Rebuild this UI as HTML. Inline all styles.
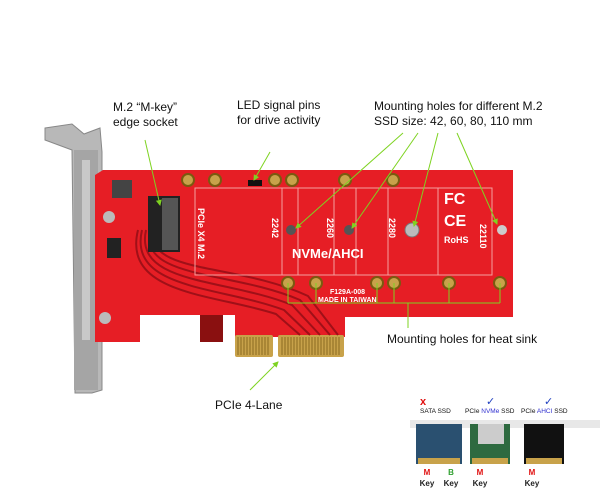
<!DOCTYPE html>
<html><head><meta charset="utf-8"><style>
body{margin:0;background:#fff;}
svg{display:block;font-family:"Liberation Sans",sans-serif;}
</style></head><body>
<svg width="600" height="496" viewBox="0 0 600 496">
<defs><marker id="a" markerWidth="6" markerHeight="6" refX="5" refY="3" orient="auto"><path d="M0,0L6,3L0,6z" fill="#7ed321"/></marker></defs>
<rect width="600" height="496" fill="#fff"/>
<polygon points="45,128 72,124 84,134 100,128 102,152 102,390 92,393 75,393 72,150 45,140" fill="#b8b8b8" stroke="#888" stroke-width="1"/>
<rect x="74" y="150" width="24" height="240" fill="#a5a5a5"/>
<rect x="82" y="160" width="8" height="180" fill="#c8c8c8"/>
<path d="M103,170 L513,170 L513,317 L345,317 L345,337 L235,337 L235,315 L140,315 L140,342 L95,342 L95,175 Z" fill="#e61e25"/>
<rect x="200" y="315" width="23" height="27" fill="#8a1010"/>
<rect x="235" y="335" width="38" height="22" rx="2" fill="#c8a24a"/>
<rect x="278" y="335" width="66" height="22" rx="2" fill="#c8a24a"/>
<g stroke="#8a6a20" stroke-width="1">
<path d="M238,337v18M241,337v18M244,337v18M247,337v18M250,337v18M253,337v18M256,337v18M259,337v18M262,337v18M265,337v18M268,337v18M282,337v18M285,337v18M288,337v18M291,337v18M294,337v18M297,337v18M300,337v18M303,337v18M306,337v18M309,337v18M312,337v18M315,337v18M318,337v18M321,337v18M324,337v18M327,337v18M330,337v18M333,337v18M336,337v18M339,337v18"/>
</g>
<g fill="none" stroke="#a01018" stroke-width="2">
<path d="M150,230 C140,280 230,270 300,300 L330,335"/>
<path d="M146,230 C134,285 225,278 292,305 L320,335"/>
<path d="M142,230 C128,290 220,286 284,310 L310,335"/>
<path d="M138,230 C122,295 215,294 276,314 L300,335"/>
<path d="M154,230 C146,275 235,262 308,296 L338,335"/>
</g>
<g fill="none" stroke="#f4a0a0" stroke-width="1">
<rect x="195" y="188" width="297" height="87"/>
<path d="M282,188v87M298,188v87M334,188v87M356,188v87M388,188v87M438,188v87"/>
</g>
<rect x="148" y="196" width="32" height="56" fill="#222"/>
<rect x="162" y="198" width="16" height="52" fill="#555"/>
<rect x="112" y="180" width="20" height="18" fill="#444"/>
<rect x="107" y="238" width="14" height="20" fill="#222"/>
<rect x="248" y="180" width="14" height="6" fill="#111"/>
<g fill="#c8a24a" stroke="#7a5a10" stroke-width="2">
<circle cx="188" cy="180" r="6"/><circle cx="215" cy="180" r="6"/><circle cx="275" cy="180" r="6"/><circle cx="292" cy="180" r="6"/><circle cx="345" cy="180" r="6"/><circle cx="393" cy="180" r="6"/>
<circle cx="288" cy="283" r="6"/><circle cx="316" cy="283" r="6"/><circle cx="377" cy="283" r="6"/><circle cx="394" cy="283" r="6"/><circle cx="449" cy="283" r="6"/><circle cx="500" cy="283" r="6"/>
</g>
<circle cx="291" cy="230" r="5" fill="#555"/><circle cx="349" cy="230" r="5" fill="#555"/><circle cx="412" cy="230" r="7" fill="#bbb" stroke="#777"/><circle cx="502" cy="230" r="5" fill="#ccc"/>
<circle cx="109" cy="217" r="6" fill="#bbb"/><circle cx="105" cy="318" r="6" fill="#bbb"/>
<g fill="#fff" font-size="10" font-weight="bold">
<text x="292" y="258" font-size="13">NVMe/AHCI</text>
<text transform="translate(198,208) rotate(90)" font-size="9">PCIe X4 M.2</text>
<text transform="translate(272,218) rotate(90)" font-size="9">2242</text>
<text transform="translate(327,218) rotate(90)" font-size="9">2260</text>
<text transform="translate(389,218) rotate(90)" font-size="9">2280</text>
<text transform="translate(480,224) rotate(90)" font-size="9">22110</text>
<text x="444" y="204" font-size="16">FC</text>
<text x="444" y="226" font-size="16">CE</text>
<text x="444" y="243" font-size="9">RoHS</text>
<text x="330" y="294" font-size="7">F129A-008</text>
<text x="318" y="302" font-size="7">MADE IN TAIWAN</text>
</g>
<g stroke="#7ed321" stroke-width="1" fill="none">
<path d="M288,283v20M316,283v20M377,283v20M394,283v20M449,283v20M500,283v20M288,303h212M408,303v25"/>
<path d="M145,140 L160,205" marker-end="url(#a)"/><path d="M270,152 L254,180" marker-end="url(#a)"/>
<path d="M403,133 L296,228" marker-end="url(#a)"/><path d="M418,133 L352,228" marker-end="url(#a)"/><path d="M438,133 L414,226" marker-end="url(#a)"/><path d="M457,133 L497,224" marker-end="url(#a)"/>
<path d="M250,390 L278,362" marker-end="url(#a)"/>
</g>
<g font-size="12" fill="#111">
<text x="113" y="111">M.2 “M-key”</text><text x="113" y="126">edge socket</text>
<text x="237" y="109">LED signal pins</text><text x="237" y="124">for drive activity</text>
<text x="374" y="110">Mounting holes for different M.2</text><text x="374" y="125">SSD size: 42, 60, 80, 110 mm</text>
<text x="387" y="343">Mounting holes for heat sink</text>
<text x="215" y="409">PCIe 4-Lane</text>
</g>
<g font-size="6.5" fill="#111">
<text x="420" y="405" fill="#e01010" font-size="11" font-weight="bold">x</text>
<text x="486" y="405" fill="#2040c0" font-size="11">✓</text>
<text x="544" y="405" fill="#2040c0" font-size="11">✓</text>
<text x="420" y="413">SATA SSD</text>
<text x="465" y="413">PCIe <tspan fill="#3030d0">NVMe</tspan> SSD</text>
<text x="521" y="413">PCIe <tspan fill="#3030d0">AHCI</tspan> SSD</text>
</g>
<rect x="410" y="420" width="190" height="8" fill="#e8e8e8"/>
<rect x="416" y="424" width="46" height="40" fill="#2a5070"/>
<rect x="470" y="424" width="40" height="40" fill="#2e6a40"/>
<rect x="478" y="424" width="26" height="20" fill="#ccc"/>
<rect x="524" y="424" width="40" height="40" fill="#111"/>
<g fill="#c8a24a"><rect x="418" y="458" width="42" height="6"/><rect x="472" y="458" width="36" height="6"/><rect x="526" y="458" width="36" height="6"/></g>
<g font-size="8" font-weight="bold" text-anchor="middle">
<text x="427" y="475" fill="#e01010">M</text><text x="451" y="475" fill="#30a030">B</text><text x="480" y="475" fill="#e01010">M</text><text x="532" y="475" fill="#e01010">M</text>
<text x="427" y="486" fill="#222">Key</text><text x="451" y="486" fill="#222">Key</text><text x="480" y="486" fill="#222">Key</text><text x="532" y="486" fill="#222">Key</text>
</g>
</svg>
</body></html>
